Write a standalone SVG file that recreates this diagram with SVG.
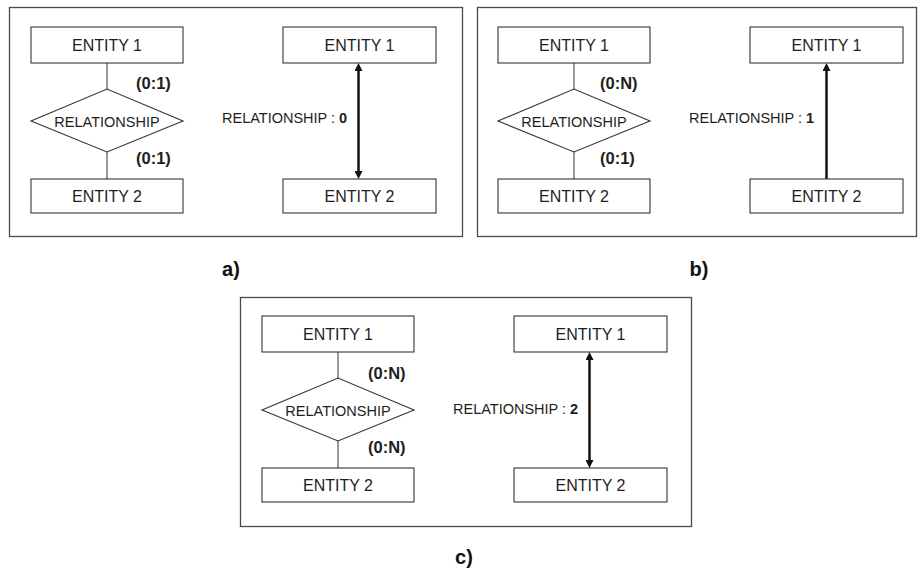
<svg xmlns="http://www.w3.org/2000/svg" width="920" height="570" viewBox="0 0 920 570">
  <style>
    .panel { fill: #ffffff; stroke: #4a4a4a; stroke-width: 1.3; }
    .box { fill: #ffffff; stroke: #333333; stroke-width: 1.1; }
    .lnk { stroke: #444444; stroke-width: 1.1; fill: none; }
    .arr { stroke: #111111; stroke-width: 2.5; fill: none; }
    .ent { font-family: "Liberation Sans", Arial, sans-serif; font-size: 16px; fill: #1e1e1e; text-anchor: middle; }
    .rel { font-family: "Liberation Sans", Arial, sans-serif; font-size: 14.5px; fill: #1e1e1e; text-anchor: middle; }
    .lbl { font-family: "Liberation Sans", Arial, sans-serif; font-size: 14.5px; fill: #1e1e1e; }
    .card { font-family: "Liberation Sans", Arial, sans-serif; font-size: 16.5px; font-weight: bold; fill: #1e1e1e; }
    .cap { font-family: "Liberation Sans", Arial, sans-serif; font-size: 20px; font-weight: bold; fill: #111111; text-anchor: middle; }
  </style>
  <defs>
    <marker id="head" markerUnits="userSpaceOnUse" markerWidth="8" markerHeight="8" refX="4" refY="4" orient="auto-start-reverse">
      <path d="M0,0 L8,4 L0,8 z" fill="#111111"/>
    </marker>
  </defs>
  <rect width="920" height="570" fill="#ffffff"/>

  <!-- panel frames -->
  <rect class="panel" x="9.5" y="7.5" width="453" height="229"/>
  <rect class="panel" x="477.5" y="7.5" width="439" height="229"/>
  <rect class="panel" x="240.5" y="297.5" width="451" height="229"/>

  <!-- connectors -->
  <g id="connectors">
    <line class="lnk" x1="107" y1="63" x2="107" y2="89"/>
    <line class="lnk" x1="107" y1="152" x2="107" y2="179"/>
    <line class="arr" x1="358.5" y1="67" x2="358.5" y2="175" marker-start="url(#head)" marker-end="url(#head)"/>

    <line class="lnk" x1="574" y1="63" x2="574" y2="89"/>
    <line class="lnk" x1="574" y1="152" x2="574" y2="179"/>
    <line class="arr" x1="826.5" y1="179" x2="826.5" y2="67" marker-end="url(#head)"/>

    <line class="lnk" x1="338" y1="352" x2="338" y2="378"/>
    <line class="lnk" x1="338" y1="441" x2="338" y2="468"/>
    <line class="arr" x1="589.5" y1="356" x2="589.5" y2="464" marker-start="url(#head)" marker-end="url(#head)"/>
  </g>

  <!-- panel a -->
  <g id="a-entity1-left"><rect class="box" x="31" y="27" width="152" height="36"/><text class="ent" x="107" y="51">ENTITY 1</text></g>
  <g id="a-relationship"><polygon class="box" points="31,121 107,89 183,121 107,152"/><text class="rel" x="107" y="127">RELATIONSHIP</text></g>
  <g id="a-entity2-left"><rect class="box" x="31" y="179" width="152" height="34"/><text class="ent" x="107" y="202">ENTITY 2</text></g>
  <g id="a-entity1-right"><rect class="box" x="283" y="27" width="153" height="36"/><text class="ent" x="359.5" y="51">ENTITY 1</text></g>
  <g id="a-entity2-right"><rect class="box" x="283" y="179" width="153" height="34"/><text class="ent" x="359.5" y="202">ENTITY 2</text></g>
  <g id="a-labels">
    <text class="card" x="136" y="89">(0:1)</text>
    <text class="card" x="136" y="164">(0:1)</text>
    <text class="lbl" x="222" y="123">RELATIONSHIP : <tspan font-weight="bold">0</tspan></text>
  </g>

  <!-- panel b -->
  <g id="b-entity1-left"><rect class="box" x="498" y="27" width="152" height="36"/><text class="ent" x="574" y="51">ENTITY 1</text></g>
  <g id="b-relationship"><polygon class="box" points="498,121 574,89 650,121 574,152"/><text class="rel" x="574" y="127">RELATIONSHIP</text></g>
  <g id="b-entity2-left"><rect class="box" x="498" y="179" width="152" height="34"/><text class="ent" x="574" y="202">ENTITY 2</text></g>
  <g id="b-entity1-right"><rect class="box" x="750" y="27" width="153" height="36"/><text class="ent" x="826.5" y="51">ENTITY 1</text></g>
  <g id="b-entity2-right"><rect class="box" x="750" y="179" width="153" height="34"/><text class="ent" x="826.5" y="202">ENTITY 2</text></g>
  <g id="b-labels">
    <text class="card" x="600" y="89">(0:N)</text>
    <text class="card" x="600" y="164">(0:1)</text>
    <text class="lbl" x="689" y="123">RELATIONSHIP : <tspan font-weight="bold">1</tspan></text>
  </g>

  <!-- panel c -->
  <g id="c-entity1-left"><rect class="box" x="262" y="316" width="152" height="36"/><text class="ent" x="338" y="340">ENTITY 1</text></g>
  <g id="c-relationship"><polygon class="box" points="262,410 338,378 414,410 338,441"/><text class="rel" x="338" y="416">RELATIONSHIP</text></g>
  <g id="c-entity2-left"><rect class="box" x="262" y="468" width="152" height="34"/><text class="ent" x="338" y="491">ENTITY 2</text></g>
  <g id="c-entity1-right"><rect class="box" x="514" y="316" width="153" height="36"/><text class="ent" x="590.5" y="340">ENTITY 1</text></g>
  <g id="c-entity2-right"><rect class="box" x="514" y="468" width="153" height="34"/><text class="ent" x="590.5" y="491">ENTITY 2</text></g>
  <g id="c-labels">
    <text class="card" x="368" y="379">(0:N)</text>
    <text class="card" x="368" y="453">(0:N)</text>
    <text class="lbl" x="453" y="414">RELATIONSHIP : <tspan font-weight="bold">2</tspan></text>
  </g>

  <!-- captions -->
  <text class="cap" x="231" y="276">a)</text>
  <text class="cap" x="699" y="276">b)</text>
  <text class="cap" x="464" y="564">c)</text>
</svg>
